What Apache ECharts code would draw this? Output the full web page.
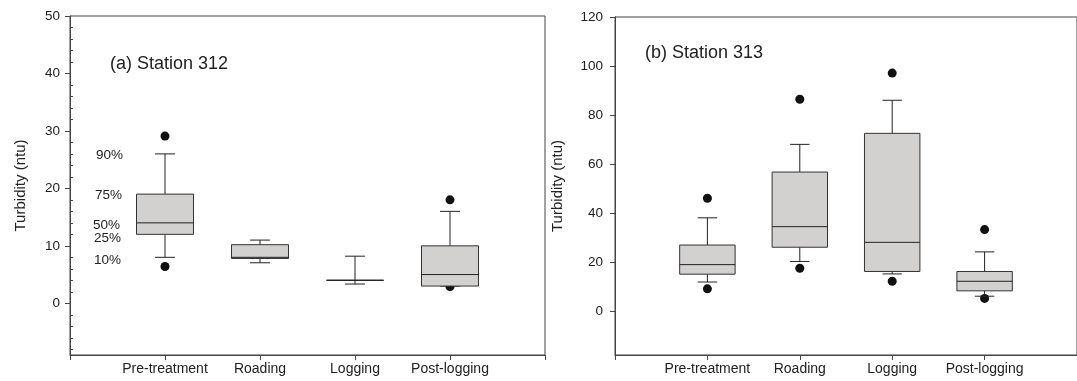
<!DOCTYPE html>
<html>
<head>
<meta charset="utf-8">
<script src="https://cdn.jsdelivr.net/npm/echarts@6/dist/echarts.min.js"></script>
<style>
html,body{margin:0;padding:0;background:#fff;}
#c{width:1077px;height:381px;}
</style>
</head>
<body>
<div id="c"></div>
<script>
// ---- data ----
var categories = ['Pre-treatment', 'Roading', 'Logging', 'Post-logging'];

// Station 312
var s312_p10 = [8.0, 7.05, 3.35, 3.0];
var s312_p25 = [12.0, 7.8, 4.0, 3.0];
var s312_p50 = [14.0, 8.0, 4.0, 5.0];
var s312_p75 = [19.0, 10.2, 4.0, 10.0];
var s312_p90 = [26.0, 11.0, 8.2, 16.0];
var s312_low = [6.4, null, null, 2.9];
var s312_high = [29.1, null, null, 18.0];

// Station 313
var s313_p10 = [11.8, 20.2, 15.1, 6.0];
var s313_p25 = [15.0, 26.0, 16.1, 8.2];
var s313_p50 = [18.9, 34.4, 28.0, 12.1];
var s313_p75 = [26.9, 56.7, 72.5, 16.1];
var s313_p90 = [38.0, 68.0, 86.0, 24.1];
var s313_low = [9.0, 17.4, 12.1, 5.1];
var s313_high = [46.0, 86.4, 97.1, 33.2];

var yTicks312 = [0, 10, 20, 30, 40, 50];
var yMinor312 = [-8, -6, -4, -2, 2, 4, 6, 8, 12, 14, 16, 18, 22, 24, 26, 28, 32, 34, 36, 38, 42, 44, 46, 48];
var yTicks313 = [0, 20, 40, 60, 80, 100, 120];
var pctLabels = ['90%', '75%', '50%', '25%', '10%'];

// ---- helpers ----
var FONT = 'Liberation Sans, Arial, sans-serif';
var AX = '#444';
var TXT = '#222';

function boxData(p10, p25, p50, p75, p90) {
  return categories.map(function (c, i) {
    return [i + 1, p10[i], p25[i], p50[i], p75[i], p90[i]];
  });
}
function outData(low, high) {
  var d = [];
  categories.forEach(function (c, i) {
    if (low[i] != null) d.push([i + 1, low[i]]);
    if (high[i] != null) d.push([i + 1, high[i]]);
  });
  return d;
}

function renderBox(params, api) {
  var x = api.value(0);
  var p = [1, 2, 3, 4, 5].map(function (k) { return api.coord([x, api.value(k)]); });
  var cx = p[0][0];
  var y10 = p[0][1], y25 = p[1][1], y50 = p[2][1], y75 = p[3][1], y90 = p[4][1];
  var bw = api.size([0.6, 0])[0];
  var cw = api.size([0.21, 0])[0];
  var ls = { stroke: '#222', lineWidth: 1 };
  return {
    type: 'group',
    children: [
      { type: 'line', shape: { x1: cx, y1: y90, x2: cx, y2: y75 }, style: ls },
      { type: 'line', shape: { x1: cx, y1: y25, x2: cx, y2: y10 }, style: ls },
      { type: 'line', shape: { x1: cx - cw / 2, y1: y90, x2: cx + cw / 2, y2: y90 }, style: ls },
      { type: 'line', shape: { x1: cx - cw / 2, y1: y10, x2: cx + cw / 2, y2: y10 }, style: ls },
      { type: 'rect', shape: { x: cx - bw / 2, y: y75, width: bw, height: y25 - y75 },
        style: { fill: '#d3d0d0', stroke: '#333', lineWidth: 1 } },
      { type: 'line', shape: { x1: cx - bw / 2, y1: y50, x2: cx + bw / 2, y2: y50 }, style: ls }
    ]
  };
}

function xAxisCfg(gridIndex) {
  return {
    type: 'value', gridIndex: gridIndex, min: 0, max: 5,
    splitLine: { show: false },
    axisLine: { show: true, onZero: false, lineStyle: { color: AX, width: 1 } },
    axisTick: { show: true, length: 5, customValues: [0, 1, 2, 3, 4, 5], lineStyle: { color: AX } },
    axisLabel: {
      show: true, customValues: [1, 2, 3, 4], margin: 7,
      fontFamily: FONT, fontSize: 14, color: TXT,
      formatter: function (v) { return categories[Math.round(v) - 1] || ''; }
    }
  };
}

var chart = echarts.init(document.getElementById('c'), null, { renderer: 'canvas' });

var option = {
  animation: false,
  backgroundColor: '#fff',
  grid: [
    { left: 70, top: 16, width: 475, height: 339, show: true, borderColor: AX, borderWidth: 1, backgroundColor: 'transparent' },
    { left: 615, top: 17, width: 470, height: 338, show: true, borderColor: AX, borderWidth: 1, backgroundColor: 'transparent' }
  ],
  xAxis: [xAxisCfg(0), xAxisCfg(1)],
  yAxis: [
    {
      type: 'value', gridIndex: 0, min: -9, max: 50, position: 'left',
      splitLine: { show: false },
      axisLine: { show: true, onZero: false, lineStyle: { color: AX } },
      axisTick: { show: true, length: 5, customValues: yTicks312, lineStyle: { color: AX } },
      axisLabel: { customValues: yTicks312, margin: 10, fontFamily: FONT, fontSize: 13.5, color: TXT },
      name: 'Turbidity (ntu)', nameLocation: 'middle', nameGap: 42,
      nameTextStyle: { fontFamily: FONT, fontSize: 15, color: TXT }
    },
    {
      type: 'value', gridIndex: 0, min: -9, max: 50, position: 'left', offset: 0,
      splitLine: { show: false },
      axisLine: { show: false, onZero: false },
      axisTick: { show: true, inside: true, length: 3, customValues: yMinor312, lineStyle: { color: AX } },
      axisLabel: { show: false }
    },
    {
      type: 'value', gridIndex: 1, min: -18, max: 120, position: 'left',
      splitLine: { show: false },
      axisLine: { show: true, onZero: false, lineStyle: { color: AX } },
      axisTick: { show: true, length: 5, customValues: yTicks313, lineStyle: { color: AX } },
      axisLabel: { customValues: yTicks313, margin: 12, fontFamily: FONT, fontSize: 13.5, color: TXT },
      name: 'Turbidity (ntu)', nameLocation: 'middle', nameGap: 50,
      nameTextStyle: { fontFamily: FONT, fontSize: 15, color: TXT }
    }
  ],
  series: [
    {
      type: 'scatter', xAxisIndex: 0, yAxisIndex: 0, z: 1,
      symbol: 'circle', symbolSize: 9, itemStyle: { color: '#111', opacity: 1 },
      data: outData(s312_low, s312_high)
    },
    {
      type: 'custom', xAxisIndex: 0, yAxisIndex: 0, z: 2,
      renderItem: renderBox, encode: { x: 0, y: [1, 2, 3, 4, 5] },
      data: boxData(s312_p10, s312_p25, s312_p50, s312_p75, s312_p90)
    },
    {
      type: 'scatter', xAxisIndex: 1, yAxisIndex: 2, z: 1,
      symbol: 'circle', symbolSize: 9, itemStyle: { color: '#111', opacity: 1 },
      data: outData(s313_low, s313_high)
    },
    {
      type: 'custom', xAxisIndex: 1, yAxisIndex: 2, z: 2,
      renderItem: renderBox, encode: { x: 0, y: [1, 2, 3, 4, 5] },
      data: boxData(s313_p10, s313_p25, s313_p50, s313_p75, s313_p90)
    }
  ],
  graphic: [
    { type: 'text', left: 110, top: 55, style: { text: '(a) Station 312', font: '18px ' + FONT, fill: TXT } },
    { type: 'text', left: 645, top: 44, style: { text: '(b) Station 313', font: '18px ' + FONT, fill: TXT } },
    { type: 'text', left: 96, top: 148, style: { text: pctLabels[0], font: '13.5px ' + FONT, fill: TXT } },
    { type: 'text', left: 95, top: 188, style: { text: pctLabels[1], font: '13.5px ' + FONT, fill: TXT } },
    { type: 'text', left: 93, top: 218, style: { text: pctLabels[2], font: '13.5px ' + FONT, fill: TXT } },
    { type: 'text', left: 94, top: 231, style: { text: pctLabels[3], font: '13.5px ' + FONT, fill: TXT } },
    { type: 'text', left: 94, top: 253, style: { text: pctLabels[4], font: '13.5px ' + FONT, fill: TXT } }
  ]
};
chart.setOption(option);
</script>
</body>
</html>
